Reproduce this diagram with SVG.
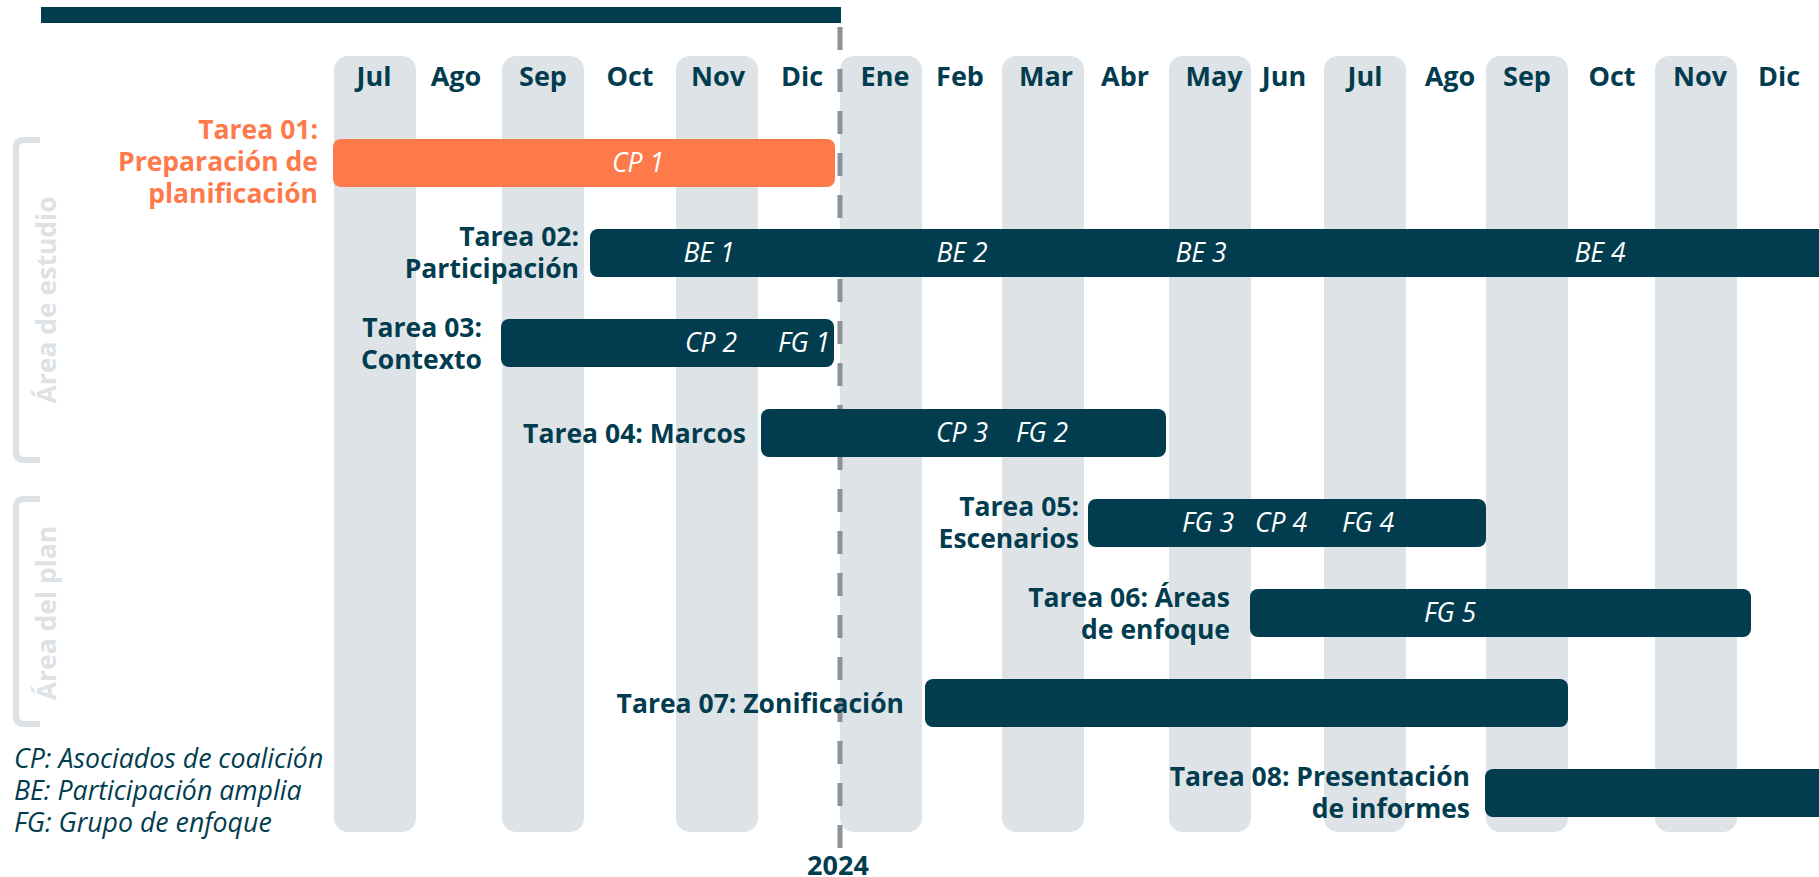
<svg xmlns="http://www.w3.org/2000/svg" width="1819" height="877" viewBox="0 0 1819 877">
<style>
.stripe{fill:#dee3e7}
.month{font-family:"Open Sans","Liberation Sans",sans-serif;font-weight:700;font-size:27px;fill:#023c4f;text-anchor:middle}
.task{font-family:"Open Sans","Liberation Sans",sans-serif;font-weight:700;font-size:26.5px;fill:#023c4f;text-anchor:end}
.task.orange{fill:#ff7a4b}
.bar{fill:#023c4f}
.bar.orange{fill:#ff7a4b}
.blab{font-family:"Open Sans","Liberation Sans",sans-serif;font-style:italic;font-size:26.5px;fill:#ffffff;text-anchor:middle}
.legend{font-family:"Open Sans","Liberation Sans",sans-serif;font-style:italic;font-size:26.7px;fill:#023c4f}
.side{font-family:"Open Sans","Liberation Sans",sans-serif;font-weight:700;font-size:26.5px;fill:#dde2e6;text-anchor:middle}
.bracket{fill:none;stroke:#dde2e6;stroke-width:6;stroke-linecap:butt}
</style>
<rect width="1819" height="877" fill="#ffffff"/>
<g id="stripes">
<rect class="stripe" x="334" y="56" width="82" height="776" rx="14"/>
<rect class="stripe" x="502" y="56" width="82" height="776" rx="14"/>
<rect class="stripe" x="676" y="56" width="82" height="776" rx="14"/>
<rect class="stripe" x="840" y="56" width="82" height="776" rx="14"/>
<rect class="stripe" x="1002" y="56" width="82" height="776" rx="14"/>
<rect class="stripe" x="1169" y="56" width="82" height="776" rx="14"/>
<rect class="stripe" x="1324" y="56" width="82" height="776" rx="14"/>
<rect class="stripe" x="1486" y="56" width="82" height="776" rx="14"/>
<rect class="stripe" x="1655" y="56" width="82" height="776" rx="14"/>
</g>
<g id="months">
<text class="month" x="374" y="86">Jul</text>
<text class="month" x="456" y="86">Ago</text>
<text class="month" x="543" y="86">Sep</text>
<text class="month" x="630" y="86">Oct</text>
<text class="month" x="718" y="86">Nov</text>
<text class="month" x="802" y="86">Dic</text>
<text class="month" x="885" y="86">Ene</text>
<text class="month" x="960" y="86">Feb</text>
<text class="month" x="1046" y="86">Mar</text>
<text class="month" x="1125" y="86">Abr</text>
<text class="month" x="1214" y="86">May</text>
<text class="month" x="1284" y="86">Jun</text>
<text class="month" x="1365" y="86">Jul</text>
<text class="month" x="1450" y="86">Ago</text>
<text class="month" x="1527" y="86">Sep</text>
<text class="month" x="1612" y="86">Oct</text>
<text class="month" x="1700" y="86">Nov</text>
<text class="month" x="1779" y="86">Dic</text>
</g>
<g id="connectors">
<rect id="year-bar" x="41" y="7" width="800" height="16" fill="#023c4f"/>
<line x1="840" y1="27" x2="840" y2="848" stroke="#8c9297" stroke-width="5" stroke-dasharray="23 19"/>
</g>
<g id="side-labels">
<path class="bracket" d="M40 140 H24 Q16 140 16 148 V452 Q16 460 24 460 H40"/>
<text class="side" transform="translate(56 300) rotate(-90)">Área de estudio</text>
<path class="bracket" d="M40 499 H24 Q16 499 16 507 V716 Q16 724 24 724 H40"/>
<text class="side" transform="translate(56 613) rotate(-90)">Área del plan</text>
</g>
<g id="task01">
<rect class="bar orange" x="333" y="139" width="502" height="48" rx="8"/>
<text class="blab" x="638" y="172">CP 1</text>
<text class="task orange" x="318" y="139">Tarea 01:</text>
<text class="task orange" x="318" y="171">Preparación de</text>
<text class="task orange" x="318" y="203">planificación</text>
</g>
<g id="task02">
<rect class="bar" x="590" y="229" width="1240" height="48" rx="8"/>
<text class="blab" x="709" y="262">BE 1</text>
<text class="blab" x="962" y="262">BE 2</text>
<text class="blab" x="1201" y="262">BE 3</text>
<text class="blab" x="1600" y="262">BE 4</text>
<text class="task" x="579" y="246">Tarea 02:</text>
<text class="task" x="579" y="278">Participación</text>
</g>
<g id="task03">
<rect class="bar" x="501" y="319" width="333" height="48" rx="8"/>
<text class="blab" x="711" y="352">CP 2</text>
<text class="blab" x="804" y="352">FG 1</text>
<text class="task" x="482" y="337">Tarea 03:</text>
<text class="task" x="482" y="369">Contexto</text>
</g>
<g id="task04">
<rect class="bar" x="761" y="409" width="405" height="48" rx="8"/>
<text class="blab" x="962" y="442">CP 3</text>
<text class="blab" x="1042" y="442">FG 2</text>
<text class="task" x="746" y="443">Tarea 04: Marcos</text>
</g>
<g id="task05">
<rect class="bar" x="1088" y="499" width="398" height="48" rx="8"/>
<text class="blab" x="1208" y="532">FG 3</text>
<text class="blab" x="1281" y="532">CP 4</text>
<text class="blab" x="1368" y="532">FG 4</text>
<text class="task" x="1079" y="516">Tarea 05:</text>
<text class="task" x="1079" y="548">Escenarios</text>
</g>
<g id="task06">
<rect class="bar" x="1250" y="589" width="501" height="48" rx="8"/>
<text class="blab" x="1450" y="622">FG 5</text>
<text class="task" x="1230" y="607">Tarea 06: Áreas</text>
<text class="task" x="1230" y="639">de enfoque</text>
</g>
<g id="task07">
<rect class="bar" x="925" y="679" width="643" height="48" rx="8"/>
<text class="task" x="904" y="713">Tarea 07: Zonificación</text>
</g>
<g id="task08">
<rect class="bar" x="1485" y="769" width="345" height="48" rx="8"/>
<text class="task" x="1470" y="786">Tarea 08: Presentación</text>
<text class="task" x="1470" y="818">de informes</text>
</g>
<g id="legend">
<text class="legend" x="14" y="768">CP: Asociados de coalición</text>
<text class="legend" x="14" y="800">BE: Participación amplia</text>
<text class="legend" x="14" y="832">FG: Grupo de enfoque</text>
</g>
<text id="year" class="month" x="838" y="875">2024</text>
</svg>
